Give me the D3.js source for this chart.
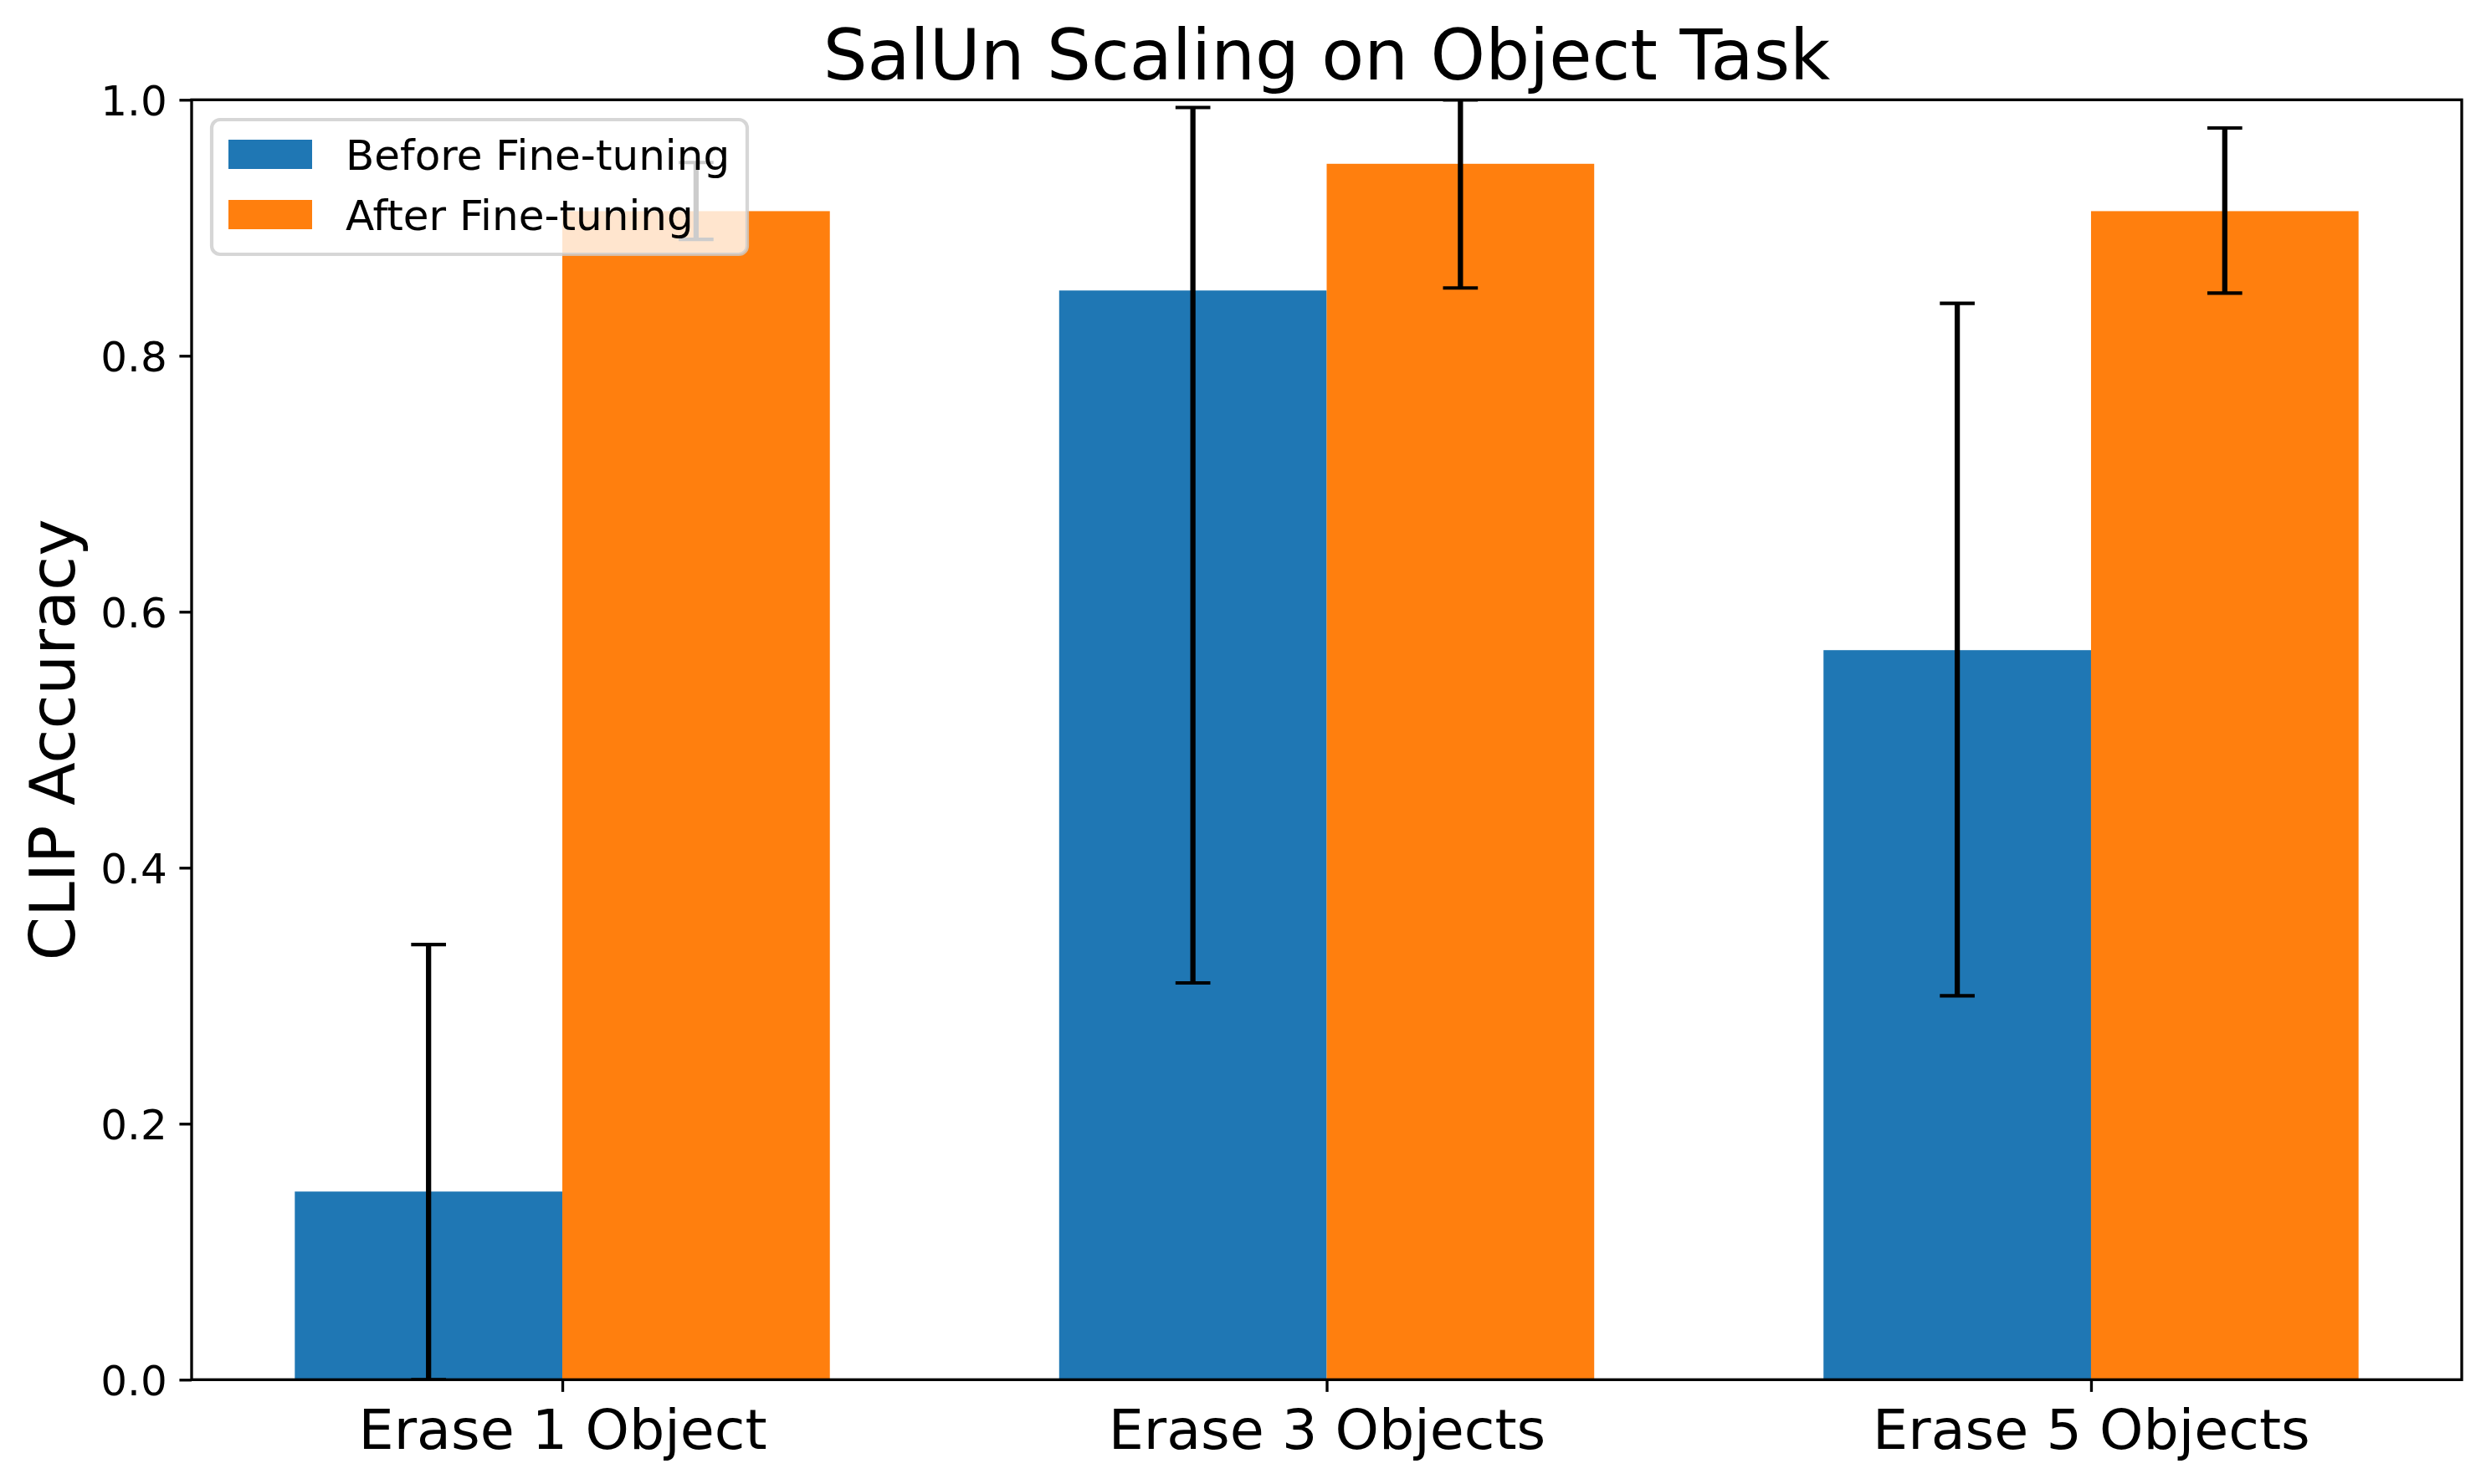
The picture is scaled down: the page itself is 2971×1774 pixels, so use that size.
<!DOCTYPE html>
<html>
<head>
<meta charset="utf-8">
<script src="https://cdn.jsdelivr.net/npm/d3@7"></script>
<style>
  body { margin: 0; background: #fff; }
  svg { display: block; font-family: "DejaVu Sans", sans-serif; }
</style>
</head>
<body>
<svg id="chart"></svg>
<script>
const categories = ["Erase 1 Object", "Erase 3 Objects", "Erase 5 Objects"];
const seriesNames = ["Before Fine-tuning", "After Fine-tuning"];
const beforeValues = [0.147, 0.851, 0.570];
const afterValues = [0.913, 0.950, 0.913];
const beforeLow = [0.0, 0.310, 0.300];
const beforeHigh = [0.340, 0.994, 0.841];
const afterLow = [0.891, 0.853, 0.849];
const afterHigh = [0.951, 1.0, 0.978];
const yTicks = [0, 0.2, 0.4, 0.6, 0.8, 1.0];

const width = 2971, height = 1774;
const margin = {top: 119.3, right: width - 2942, bottom: height - 1649.3, left: 229};
const pt = 300 / 72;
const barWidth = 0.35;
const colors = ["#1f77b4", "#ff7f0e"];

const series = [
    {name: seriesNames[0], values: beforeValues, low: beforeLow, high: beforeHigh, offset: -barWidth / 2, color: colors[0]},
    {name: seriesNames[1], values: afterValues, low: afterLow, high: afterHigh, offset: barWidth / 2, color: colors[1]}
];

let scale = {
    x: d3.scaleLinear().domain([-0.485, 2.485]).range([margin.left, width - margin.right]),
    y: d3.scaleLinear().domain([0, 1]).range([height - margin.bottom, margin.top])
};

const svg = d3.select("#chart")
    .attr("width", width)
    .attr("height", height)
    .attr("viewBox", `0 0 ${width} ${height}`);

svg.append("defs").append("clipPath")
    .attr("id", "plot-clip")
    .append("rect")
        .attr("x", margin.left)
        .attr("y", margin.top)
        .attr("width", width - margin.left - margin.right)
        .attr("height", height - margin.top - margin.bottom);

const plot = svg.append("g").attr("clip-path", "url(#plot-clip)");

// bars
series.forEach(s => {
    plot.append("g")
        .selectAll("rect")
        .data(s.values)
        .join("rect")
            .attr("x", (d, i) => scale.x(i + s.offset - barWidth / 2))
            .attr("width", scale.x(barWidth) - scale.x(0))
            .attr("y", d => scale.y(d))
            .attr("height", d => scale.y(0) - scale.y(d))
            .attr("fill", s.color);
});

// error bars (capsize 5pt each side)
const capHalf = 5 * pt;
series.forEach(s => {
    let g = plot.append("g").attr("stroke", "#000");
    s.values.forEach((d, i) => {
        let cx = scale.x(i + s.offset);
        g.append("line")
            .attr("x1", cx).attr("x2", cx)
            .attr("y1", scale.y(s.low[i])).attr("y2", scale.y(s.high[i]))
            .attr("stroke-width", 1.5 * pt);
        [s.low[i], s.high[i]].forEach(v => {
            g.append("line")
                .attr("x1", cx - capHalf).attr("x2", cx + capHalf)
                .attr("y1", scale.y(v)).attr("y2", scale.y(v))
                .attr("stroke-width", 1 * pt);
        });
    });
});

// axes
let yAxis = d3.axisLeft(scale.y)
    .tickValues(yTicks)
    .tickFormat(d3.format(".1f"))
    .tickSizeInner(3.5 * pt)
    .tickSizeOuter(0)
    .tickPadding(3.5 * pt);

let yg = svg.append("g")
    .attr("transform", `translate(${margin.left},0)`)
    .call(yAxis);
yg.select(".domain").remove();
yg.selectAll(".tick line").attr("stroke", "#000").attr("stroke-width", 0.8 * pt);
yg.selectAll(".tick text")
    .attr("font-family", "DejaVu Sans")
    .attr("font-size", 12 * pt)
    .attr("fill", "#000")
    .attr("dy", "0.36em");

let xAxis = d3.axisBottom(scale.x)
    .tickValues([0, 1, 2])
    .tickFormat(i => categories[i])
    .tickSizeInner(3.5 * pt)
    .tickSizeOuter(0)
    .tickPadding(3.5 * pt);

let xg = svg.append("g")
    .attr("transform", `translate(0,${height - margin.bottom})`)
    .call(xAxis);
xg.select(".domain").remove();
xg.selectAll(".tick line").attr("stroke", "#000").attr("stroke-width", 0.8 * pt);
xg.selectAll(".tick text")
    .attr("font-family", "DejaVu Sans")
    .attr("font-size", 16 * pt)
    .attr("fill", "#000")
    .attr("dy", "0.80em");

// spines
svg.append("rect")
    .attr("x", margin.left)
    .attr("y", margin.top)
    .attr("width", width - margin.left - margin.right)
    .attr("height", height - margin.top - margin.bottom)
    .attr("fill", "none")
    .attr("stroke", "#000")
    .attr("stroke-width", 0.8 * pt);

// title and y label
svg.append("text")
    .attr("x", (margin.left + width - margin.right) / 2)
    .attr("y", 95)
    .attr("text-anchor", "middle")
    .attr("font-size", 20 * pt)
    .attr("fill", "#000")
    .text("SalUn Scaling on Object Task");

svg.append("text")
    .attr("transform", `translate(89,${(margin.top + height - margin.bottom) / 2}) rotate(-90)`)
    .attr("text-anchor", "middle")
    .attr("font-size", 18 * pt)
    .attr("fill", "#000")
    .text("CLIP Accuracy");

// legend
const legend = svg.append("g").attr("transform", "translate(253,143)");
legend.append("rect")
    .attr("width", 640)
    .attr("height", 161)
    .attr("rx", 10)
    .attr("ry", 10)
    .attr("fill", "#fff")
    .attr("fill-opacity", 0.8)
    .attr("stroke", "#ccc")
    .attr("stroke-opacity", 0.8)
    .attr("stroke-width", 1 * pt);

let items = legend.selectAll("g.item")
    .data(series)
    .join("g")
        .attr("class", "item")
        .attr("transform", (d, i) => `translate(20,${24 + i * 72})`);

items.append("rect")
    .attr("width", 100)
    .attr("height", 35)
    .attr("fill", d => d.color);

items.append("text")
    .attr("x", 140)
    .attr("y", 17.5)
    .attr("dy", "0.36em")
    .attr("font-size", 12 * pt)
    .attr("fill", "#000")
    .text(d => d.name);
</script>
</body>
</html>
